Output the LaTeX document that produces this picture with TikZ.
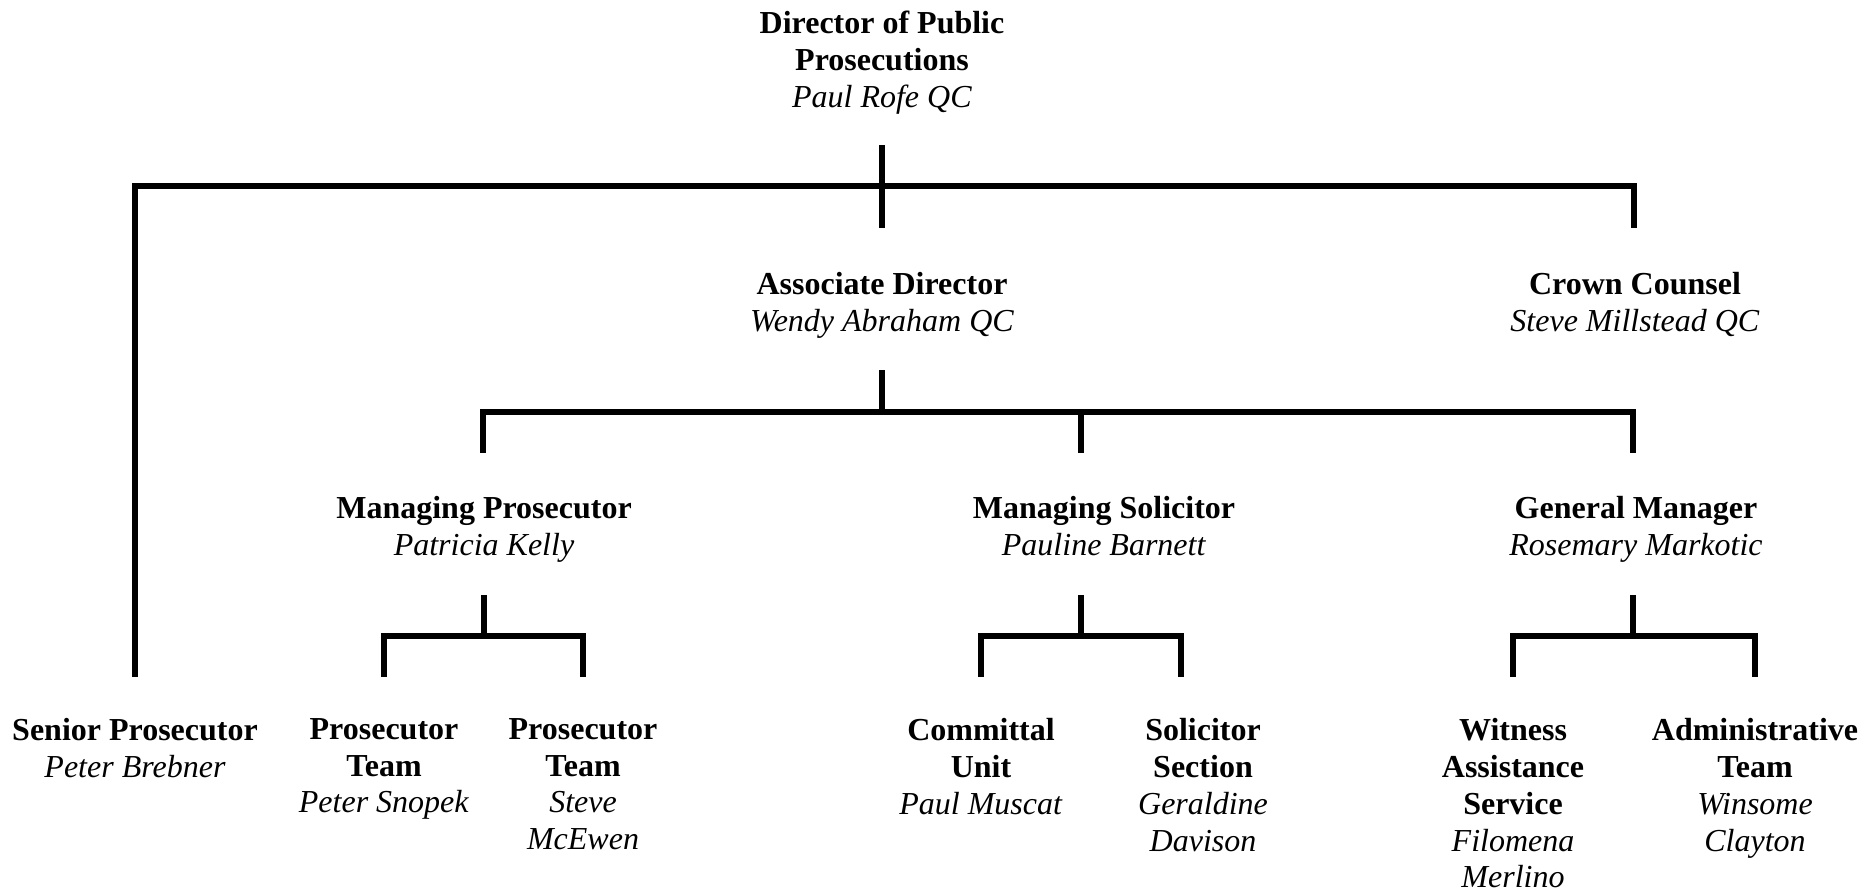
\documentclass[tikz,border=0pt]{standalone}
\usepackage{fontspec}
\setmainfont{Liberation Serif}
\begin{document}
\begin{tikzpicture}[x=0.5pt,y=-0.5pt,
  box/.style={align=center,anchor=north,inner sep=0pt,font=\fontsize{16pt}{18.4pt}\selectfont},
  link/.style={line width=2.7pt,line cap=rect}]
\useasboundingbox (0,0) rectangle (1871,892);
% nodes
\node[box] (dpp) at (882,11) {\textbf{Director of Public}\\\textbf{Prosecutions}\\\textit{Paul Rofe QC}};
\node[box] (ad) at (882,272) {\textbf{Associate Director}\\\textit{Wendy Abraham QC}};
\node[box] (cc) at (1635,272) {\textbf{Crown Counsel}\\\textit{Steve Millstead QC}};
\node[box] (mp) at (484,496) {\textbf{Managing Prosecutor}\\\textit{Patricia Kelly}};
\node[box] (ms) at (1104,496) {\textbf{Managing Solicitor}\\\textit{Pauline Barnett}};
\node[box] (gm) at (1636,496) {\textbf{General Manager}\\\textit{Rosemary Markotic}};
\node[box] (sp) at (135,718) {\textbf{Senior Prosecutor}\\\textit{Peter Brebner}};
\node[box] (pt1) at (384,718) {\textbf{Prosecutor}\\\textbf{Team}\\\textit{Peter Snopek}};
\node[box] (pt2) at (583,718) {\textbf{Prosecutor}\\\textbf{Team}\\\textit{Steve}\\\textit{McEwen}};
\node[box] (cu) at (981,718) {\textbf{Committal}\\\textbf{Unit}\\\textit{Paul Muscat}};
\node[box] (ss) at (1203,718) {\textbf{Solicitor}\\\textbf{Section}\\\textit{Geraldine}\\\textit{Davison}};
\node[box] (was) at (1513,718) {\textbf{Witness}\\\textbf{Assistance}\\\textbf{Service}\\\textit{Filomena}\\\textit{Merlino}};
\node[box] (at) at (1755,718) {\textbf{Administrative}\\\textbf{Team}\\\textit{Winsome}\\\textit{Clayton}};
% connector points
\coordinate (dppS) at (882,148);
\coordinate (dppX) at (882,225);
\coordinate (b0) at (882,186);
\coordinate (b0L) at (135,186);
\coordinate (b0R) at (1634,186);
\coordinate (spN) at (135,674);
\coordinate (ccN) at (1634,225);
\coordinate (adS) at (882,373);
\coordinate (b1) at (882,412);
\coordinate (b1L) at (483,412);
\coordinate (b1M) at (1081,412);
\coordinate (b1R) at (1633,412);
\coordinate (mpN) at (483,450);
\coordinate (msN) at (1081,450);
\coordinate (gmN) at (1633,450);
\coordinate (mpS) at (484,598);
\coordinate (b2) at (484,636);
\coordinate (b2L) at (384,636);
\coordinate (b2R) at (583,636);
\coordinate (pt1N) at (384,674);
\coordinate (pt2N) at (583,674);
\coordinate (msS) at (1081,598);
\coordinate (b3) at (1081,636);
\coordinate (b3L) at (981,636);
\coordinate (b3R) at (1181,636);
\coordinate (cuN) at (981,674);
\coordinate (ssN) at (1181,674);
\coordinate (gmS) at (1633,598);
\coordinate (b4) at (1633,636);
\coordinate (b4L) at (1513,636);
\coordinate (b4R) at (1755,636);
\coordinate (wasN) at (1513,674);
\coordinate (atN) at (1755,674);
% connectors
\draw[link] (dppS) -- (dppX);
\draw[link] (spN) -- (b0L) -- (b0R) -- (ccN);
\draw[link] (adS) -- (b1);
\draw[link] (mpN) -- (b1L) -- (b1R) -- (gmN);
\draw[link] (b1M) -- (msN);
\draw[link] (mpS) -- (b2);
\draw[link] (pt1N) -- (b2L) -- (b2R) -- (pt2N);
\draw[link] (msS) -- (b3);
\draw[link] (cuN) -- (b3L) -- (b3R) -- (ssN);
\draw[link] (gmS) -- (b4);
\draw[link] (wasN) -- (b4L) -- (b4R) -- (atN);
\end{tikzpicture}
\end{document}
